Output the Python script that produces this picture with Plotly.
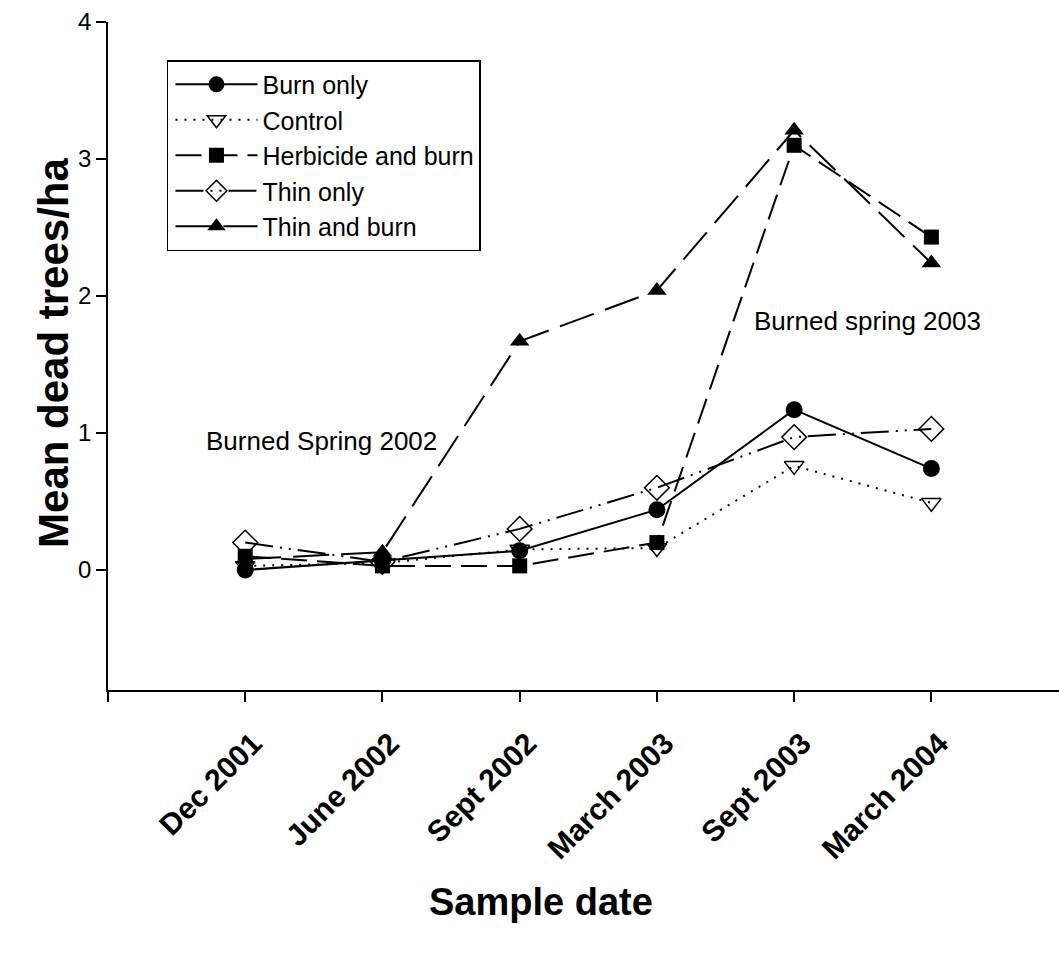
import plotly.graph_objects as go

# Sample dates (category axis) and mean dead trees per hectare by treatment
dates = ["Dec 2001", "June 2002", "Sept 2002", "March 2003", "Sept 2003", "March 2004"]
burn_only = [0.0, 0.07, 0.14, 0.44, 1.17, 0.74]
control = [0.03, 0.05, 0.15, 0.16, 0.76, 0.49]
herbicide_burn = [0.1, 0.03, 0.03, 0.2, 3.1, 2.43]
thin_only = [0.2, 0.06, 0.3, 0.6, 0.97, 1.03]
thin_burn = [0.08, 0.13, 1.67, 2.04, 3.21, 2.24]

y_ticks = [0, 1, 2, 3, 4]

FONT = "Arial, Liberation Sans, sans-serif"
xpos = list(range(len(dates)))

fig = go.Figure()

series = [
    ("Burn only", burn_only, "solid", dict(symbol="circle", size=17, color="black")),
    ("Control", control, "2px,7px",
     dict(symbol="triangle-down-open", size=17, color="black", line=dict(width=1.5))),
    ("Herbicide and burn", herbicide_burn, "26px,10px",
     dict(symbol="square", size=15, color="black")),
    ("Thin only", thin_only, "28px,7px,2px,7px,2px,7px",
     dict(symbol="diamond-open", size=19, color="black", line=dict(width=1.5))),
    ("Thin and burn", thin_burn, "36px,12px",
     dict(symbol="triangle-up", size=17, color="black")),
]

for name, vals, dash, marker in series:
    fig.add_trace(go.Scatter(
        x=xpos, y=vals, name=name, mode="lines+markers",
        line=dict(color="black", width=2, dash=dash),
        marker=marker,
    ))

fig.update_layout(
    width=1059, height=973,
    margin=dict(l=108, r=0, t=22, b=283),
    paper_bgcolor="white", plot_bgcolor="white",
    font=dict(family=FONT, color="black"),
    showlegend=True,
    legend=dict(
        x=0.062, y=0.943, xanchor="left", yanchor="top",
        bordercolor="black", borderwidth=1.5, bgcolor="white",
        font=dict(size=25, family=FONT), tracegroupgap=0,
        itemwidth=82, indentation=2,
    ),
)

fig.update_xaxes(
    range=[-1, 5.93],
    tickvals=[-1] + xpos, ticktext=[""] + dates,
    tickangle=-45, tickfont=dict(size=30, family=FONT, weight="bold"),
    ticklabelshift=8, ticklabelstandoff=12,
    showline=True, linecolor="black", linewidth=1.5,
    ticks="outside", ticklen=10, tickwidth=1.5, tickcolor="black",
    showgrid=False, zeroline=False,
)
fig.update_yaxes(
    range=[-0.876, 4],
    tickvals=y_ticks, ticktext=[str(v) for v in y_ticks],
    tickfont=dict(size=24, family=FONT),
    showline=True, linecolor="black", linewidth=1.5,
    ticks="outside", ticklen=10, tickwidth=1.5, tickcolor="black",
    showgrid=False, zeroline=False,
)

# Axis titles
fig.add_annotation(text="<b>Sample date</b>", xref="paper", yref="paper",
                   x=0.455, y=-0.352, showarrow=False,
                   font=dict(size=38, family=FONT))
fig.add_annotation(text="<b>Mean dead trees/ha</b>", xref="paper", yref="paper",
                   x=-0.084, y=0.504, textangle=-90, showarrow=False,
                   font=dict(size=42, family=FONT))

# Burn timing notes
fig.add_annotation(text="Burned Spring 2002", x=0.558, y=0.94, xref="x", yref="y",
                   showarrow=False, font=dict(size=26, family=FONT))
fig.add_annotation(text="Burned spring 2003", x=4.537, y=1.82, xref="x", yref="y",
                   showarrow=False, font=dict(size=26, family=FONT))

fig.write_html("out.html")
